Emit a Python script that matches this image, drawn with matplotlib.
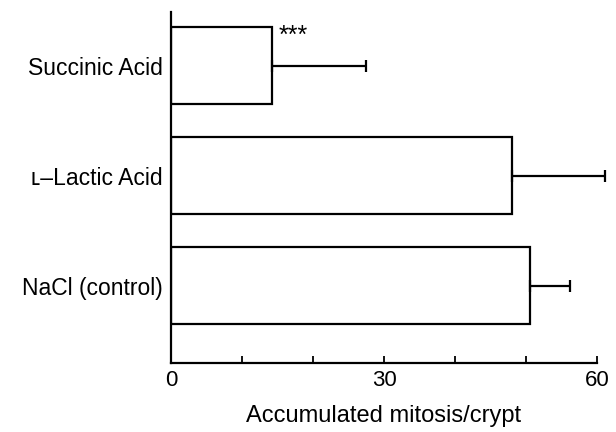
import numpy as np
import matplotlib
matplotlib.use('Agg')
import matplotlib.pyplot as plt

plt.rcParams['font.family'] = ['Liberation Sans', 'DejaVu Sans']

# data (bottom to top)
groups = ['NaCl (control)', 'ʟ–Lactic Acid', 'Succinic Acid']
means = [50.6, 48.0, 14.2]
errs = [5.6, 13.1, 13.3]
stars = ['', '', '***']

fig = plt.figure(figsize=(6.16, 4.32), dpi=100)
ax = fig.add_axes([0.2776, 0.16, 0.6916, 0.812])

y = np.arange(len(groups))
ax.barh(y, means, height=0.7, color='white', edgecolor='black', lw=1.6)
eb = ax.errorbar(means, y, xerr=[np.zeros(len(errs)), errs], fmt='none',
                 ecolor='black', elinewidth=1.6, capsize=4, capthick=1.6)
for artist in eb.lines[1] + eb.lines[2]:
    artist.set_clip_on(False)
for yi, m, s in zip(y, means, stars):
    if s:
        ax.text(m + 1.0, yi + 0.38, s, ha='left', va='top', fontsize=18)

ax.set_xlim(0, 60)
ax.set_ylim(-0.7, 2.49)
ax.set_xticks([0, 30, 60])
ax.set_xticks([10, 20, 40, 50], minor=True)
ax.tick_params(axis='x', which='both', direction='in', length=5, width=1.3,
               labelsize=16, pad=5)
ax.set_yticks(y)
ax.set_yticklabels(groups, fontsize=16.5)
ax.tick_params(axis='y', length=0, pad=6)
ax.spines['top'].set_visible(False)
ax.spines['right'].set_visible(False)
ax.spines['left'].set_linewidth(1.6)
ax.spines['bottom'].set_linewidth(1.6)
ax.set_xlabel('Accumulated mitosis/crypt', fontsize=17, labelpad=10)

fig.savefig('out.png', dpi=100)
